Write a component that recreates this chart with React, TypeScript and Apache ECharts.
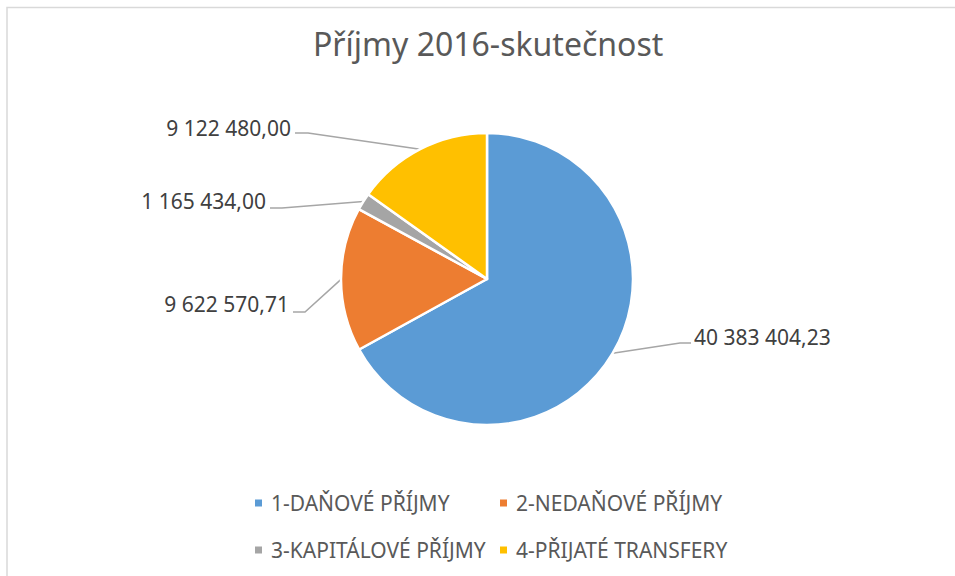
import React, { useEffect, useRef } from "react";
import * as echarts from "echarts";

const TITLE = "Příjmy 2016-skutečnost";
const CATEGORIES = [
  "1-DAŇOVÉ PŘÍJMY",
  "2-NEDAŇOVÉ PŘÍJMY",
  "3-KAPITÁLOVÉ PŘÍJMY",
  "4-PŘIJATÉ TRANSFERY",
];
const VALUES = [40383404.23, 9622570.71, 1165434.0, 9122480.0];
const COLORS = ["#5B9BD5", "#ED7D31", "#A5A5A5", "#FFC000"];

// label placement (layout only)
const LABEL_POS = [
  { x: 694, y: 337, align: "left", bend: [680, 343], end: [691, 343] },
  { x: 289, y: 304, align: "right", bend: [305, 312], end: [293, 312] },
  { x: 266, y: 201, align: "right", bend: [282, 208], end: [270, 208] },
  { x: 291, y: 128, align: "right", bend: [308, 133], end: [295, 133] },
];

const CENTER = [487, 279];
const RADIUS = 146;
const FONT = "'Noto Sans', 'Open Sans', sans-serif";

function formatCz(v: number): string {
  const [intPart, dec] = v.toFixed(2).split(".");
  const grouped = intPart.replace(/\B(?=(\d{3})+(?!\d))/g, " ");
  return grouped + "," + dec;
}

export default function App() {
  const ref = useRef<HTMLDivElement>(null);
  useEffect(() => {
    if (!ref.current) return;
    const chart = echarts.init(ref.current, undefined, { renderer: "svg" });
    const total = VALUES.reduce((a, b) => a + b, 0);
    const midPoints: number[][] = [];
    let acc = 0;
    VALUES.forEach((v) => {
      const mid = ((acc + v / 2) / total) * Math.PI * 2;
      acc += v;
      midPoints.push([
        CENTER[0] + Math.sin(mid) * RADIUS,
        CENTER[1] - Math.cos(mid) * RADIUS,
      ]);
    });
    const legendCommon = {
      orient: "vertical" as const,
      icon: "rect",
      itemWidth: 9,
      itemHeight: 9,
      itemGap: 23,
      padding: 0,
      textStyle: {
        fontFamily: FONT,
        fontSize: 21,
        color: "#595959",
        lineHeight: 24,
        padding: [0, 0, 0, 3],
      },
      top: 491,
    };
    chart.setOption({
      animation: false,
      backgroundColor: "#ffffff",
      title: {
        text: TITLE,
        left: 308,
        top: 22,
        textStyle: {
          fontFamily: FONT,
          fontSize: 32,
          fontWeight: "normal",
          color: "#595959",
        },
      },
      legend: [
        { ...legendCommon, left: 253, data: [CATEGORIES[0], CATEGORIES[2]] },
        { ...legendCommon, left: 498, data: [CATEGORIES[1], CATEGORIES[3]] },
      ],
      graphic: [
        {
          type: "rect",
          shape: { x: 7, y: 7.5, width: 1200, height: 900 },
          style: { fill: "none", stroke: "#D9D9D9", lineWidth: 1.5 },
          silent: true,
        },
      ],
      series: [
        {
          type: "pie",
          center: CENTER,
          radius: RADIUS,
          startAngle: 90,
          clockwise: true,
          data: CATEGORIES.map((name, i) => ({
            name,
            value: VALUES[i],
            itemStyle: { color: COLORS[i] },
          })),
          itemStyle: { borderColor: "#ffffff", borderWidth: 2.5 },
          label: {
            show: true,
            position: "outside",
            formatter: (p: any) => formatCz(p.value),
            fontFamily: FONT,
            fontSize: 21,
            color: "#404040",
          },
          labelLine: {
            show: true,
            lineStyle: { color: "#A6A6A6", width: 1.5 },
          },
          labelLayout: (params: any) => {
            const i = params.dataIndex;
            const L = LABEL_POS[i];
            return {
              x: L.x,
              y: L.y,
              align: L.align,
              verticalAlign: "middle",
              labelLinePoints: [midPoints[i], L.bend, L.end],
            };
          },
          emphasis: { disabled: true },
        },
      ],
    });
    return () => chart.dispose();
  }, []);
  return (
    <div
      ref={ref}
      style={{ position: "fixed", left: 0, top: 0, width: 955, height: 576 }}
    />
  );
}
